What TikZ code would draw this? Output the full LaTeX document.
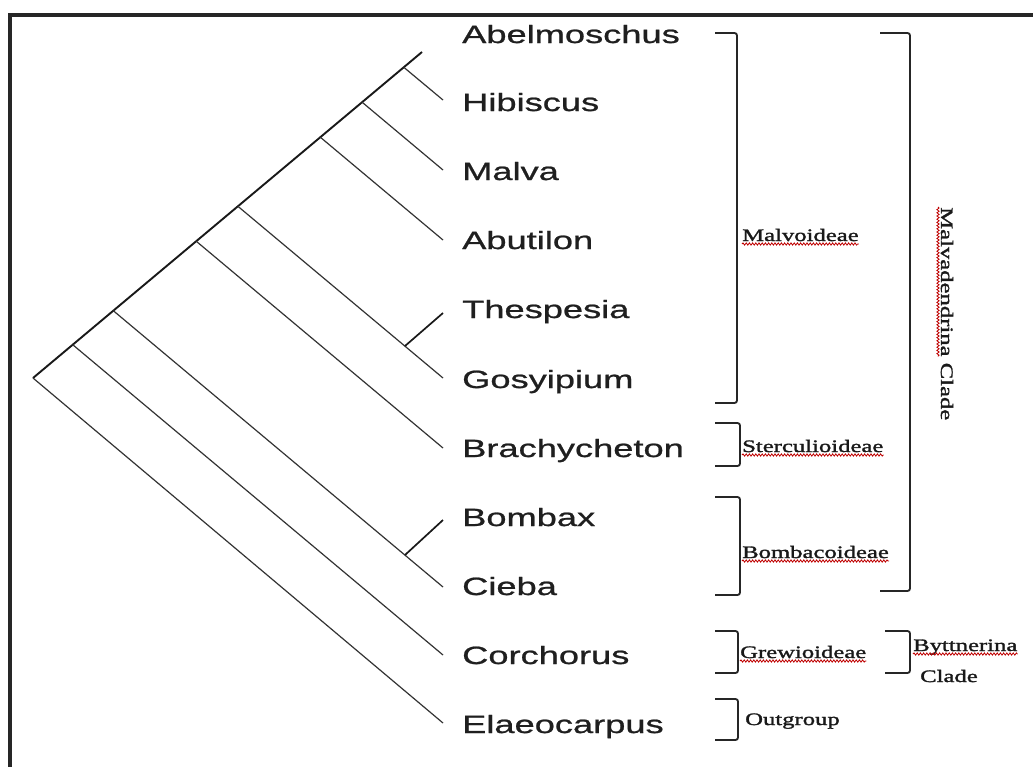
\documentclass[tikz,border=0pt]{standalone}
\usepackage{fontspec}
\usetikzlibrary{decorations.pathmorphing,calc}
\newfontfamily\taxfont[FakeStretch=1.45,FakeBold=0.9]{Liberation Sans}
\newfontfamily\grpfont[FakeStretch=1.41,FakeBold=1.6]{Liberation Serif}
\begin{document}
\begin{tikzpicture}[x=1pt,y=-1pt,
  taxon/.style={anchor=base west, inner sep=0pt, text=black!88, font=\taxfont\fontsize{25}{25}\selectfont},
  grp/.style={anchor=base west, inner sep=0pt, text=black!90, font=\grpfont\fontsize{17.5}{17.5}\selectfont},
  branch/.style={line width=1.2pt, black!80},
  spine/.style={line width=1.9pt, black!90},
  stub/.style={line width=1.7pt, black!90},
  brk/.style={line width=1.8pt, black!85, rounded corners=2.5pt},
  wavy/.style={red!75!black, line width=0.8pt, decorate, decoration={snake, amplitude=1.1pt, segment length=3.2pt}},
  frame/.style={line width=4pt, black!85}]
\useasboundingbox (0,0) rectangle (1033,766);
\clip (0,0) rectangle (1033,766);
\fill[white] (0,0) rectangle (1033,766);
\draw[frame] (10,14.5) rectangle (1100,820);

% taxa
\node[taxon] (abe) at (462,43) {Abelmoschus};
\node[taxon] (hib) at (462,111) {Hibiscus};
\node[taxon] (mal) at (462,180) {Malva};
\node[taxon] (abu) at (462,249) {Abutilon};
\node[taxon] (the) at (462,318) {Thespesia};
\node[taxon] (gos) at (462,388) {Gosyipium};
\node[taxon] (bra) at (462,457) {Brachycheton};
\node[taxon] (bom) at (462,526) {Bombax};
\node[taxon] (cie) at (462,595) {Cieba};
\node[taxon] (cor) at (462,664) {Corchorus};
\node[taxon] (ela) at (462,733) {Elaeocarpus};

% tips
\coordinate (tAbe) at (422,52);
\coordinate (tHib) at (443,100);
\coordinate (tMal) at (443,170);
\coordinate (tAbu) at (443,240);
\coordinate (tThe) at (443,313);
\coordinate (tGos) at (443,378);
\coordinate (tBra) at (443,448);
\coordinate (tBom) at (443,520);
\coordinate (tCie) at (443,587);
\coordinate (tCor) at (443,655);
\coordinate (tEla) at (443,723);

% internal nodes
\coordinate (root) at (33,378);
\coordinate (nHib) at (403.8,67.3);
\coordinate (nMal) at (362.1,102.2);
\coordinate (nAbu) at (320.3,137.2);
\coordinate (nGos) at (237.9,206.3);
\coordinate (nBra) at (196.2,241.2);
\coordinate (nCie) at (113.3,310.7);
\coordinate (nCor) at (72.7,344.7);
\coordinate (nThe) at (405,346);
\coordinate (nBom) at (405,555);

\draw[spine] (root) -- (tAbe);
\draw[branch] (nHib) -- (tHib);
\draw[branch] (nMal) -- (tMal);
\draw[branch] (nAbu) -- (tAbu);
\draw[branch] (nGos) -- (tGos);
\draw[branch] (nBra) -- (tBra);
\draw[branch] (nCie) -- (tCie);
\draw[branch] (nCor) -- (tCor);
\draw[branch] (root) -- (tEla);
\draw[stub] (nThe) -- (tThe);
\draw[stub] (nBom) -- (tBom);

% brackets
\draw[brk] (715,33) -- (737,33) -- (737,403) -- (715,403);
\draw[brk] (715,423) -- (740,423) -- (740,466) -- (715,466);
\draw[brk] (715,497) -- (740,497) -- (740,595) -- (715,595);
\draw[brk] (715,631) -- (738,631) -- (738,673) -- (715,673);
\draw[brk] (715,699) -- (738,699) -- (738,740) -- (715,740);
\draw[brk] (880,33) -- (910,33) -- (910,591) -- (880,591);
\draw[brk] (885,631) -- (910,631) -- (910,673) -- (885,673);

% group labels
\node[grp] (gMalv) at (742,241) {Malvoideae};
\node[grp] (gSter) at (742,452) {Sterculioideae};
\node[grp] (gBomb) at (742,558) {Bombacoideae};
\node[grp] (gGrew) at (740,658) {Grewioideae};
\node[grp] (gOut) at (745,725) {Outgroup};
\node[grp] (gByt) at (913,651) {Byttnerina};
\node[grp] (gCla) at (920,682) {Clade};
\node[grp, rotate=-90] (gMd) at (941,207) {Malvadendrina Clade};

% spell-check underlines
\foreach \n in {gMalv,gSter,gBomb,gGrew,gByt}
  \draw[wavy] ([yshift=-3pt]\n.base west) -- ([yshift=-3pt]\n.base east);
\draw[wavy] ([xshift=-3pt]gMd.base west) -- ($([xshift=-3pt]gMd.base west)!0.70!([xshift=-3pt]gMd.base east)$);
\end{tikzpicture}
\end{document}
